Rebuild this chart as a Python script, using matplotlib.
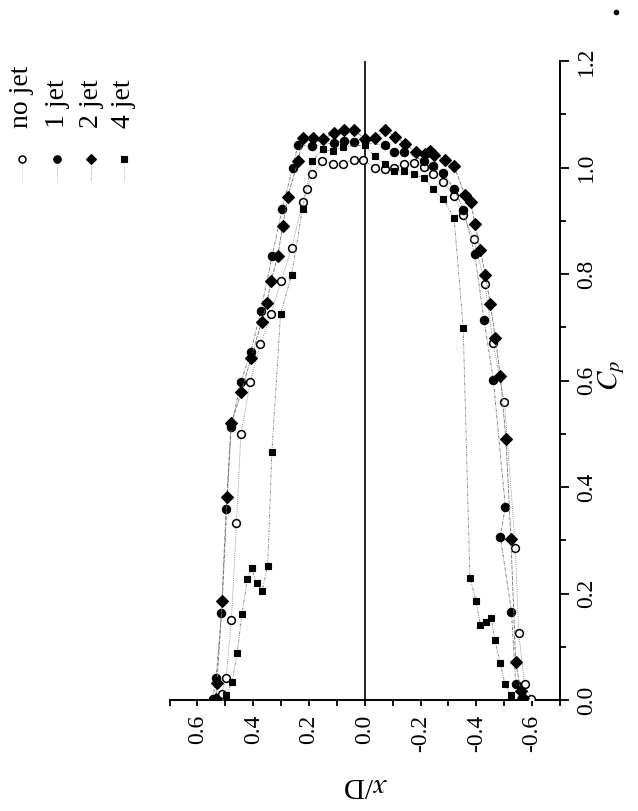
import matplotlib
matplotlib.use("Agg")
import matplotlib.pyplot as plt
from matplotlib.ticker import FixedLocator, MultipleLocator
from matplotlib.lines import Line2D

plt.rcParams['font.family'] = ['Liberation Serif', 'DejaVu Serif']
plt.rcParams['mathtext.fontset'] = 'stix'

# ---------------- data (x/D, Cp) ----------------
xd_nojet = [0.520, 0.513, 0.497, 0.478, 0.460, 0.444, 0.410, 0.374, 0.336, 0.300,
            0.262, 0.223, 0.208, 0.189, 0.153, 0.115, 0.079, 0.040, 0.005, -0.035,
            -0.071, -0.106, -0.142, -0.178, -0.214, -0.246, -0.282, -0.320, -0.354,
            -0.391, -0.431, -0.460, -0.501, -0.540, -0.552, -0.573, -0.596]
cp_nojet = [0.003, 0.012, 0.042, 0.150, 0.332, 0.500, 0.598, 0.668, 0.724, 0.787,
            0.849, 0.935, 0.959, 0.987, 1.012, 1.007, 1.007, 1.014, 1.014, 1.000,
            0.998, 1.000, 1.007, 1.009, 1.001, 0.987, 0.973, 0.946, 0.910,
            0.865, 0.782, 0.670, 0.559, 0.285, 0.125, 0.030, 0.002]

xd_1jet = [0.545, 0.533, 0.514, 0.497, 0.480, 0.443, 0.409, 0.373, 0.332, 0.296,
           0.258, 0.240, 0.189, 0.112, 0.075, 0.037, -0.071, -0.106, -0.142,
           -0.214, -0.246, -0.282, -0.321, -0.354, -0.394, -0.428, -0.461, -0.504,
           -0.486, -0.526, -0.541, -0.563]
cp_1jet = [0.002, 0.042, 0.163, 0.359, 0.513, 0.598, 0.653, 0.730, 0.834, 0.923,
           1.000, 1.042, 1.040, 1.046, 1.050, 1.048, 1.042, 1.029, 1.029,
           1.012, 1.002, 0.989, 0.959, 0.921, 0.837, 0.713, 0.601, 0.363,
           0.307, 0.166, 0.030, 0.003]

xd_2jet = [0.535, 0.530, 0.511, 0.493, 0.478, 0.443, 0.407, 0.370, 0.351, 0.336,
           0.312, 0.294, 0.276, 0.240, 0.220, 0.184, 0.150, 0.112, 0.073, 0.037,
           0.000, -0.038, -0.074, -0.110, -0.146, -0.182, -0.217, -0.234, -0.250,
           -0.289, -0.321, -0.359, -0.380, -0.396, -0.414, -0.432, -0.450, -0.468,
           -0.486, -0.506, -0.524, -0.541, -0.560, -0.568]
cp_2jet = [0.002, 0.031, 0.185, 0.382, 0.520, 0.578, 0.643, 0.710, 0.745, 0.787,
           0.834, 0.890, 0.945, 1.012, 1.056, 1.056, 1.054, 1.064, 1.070, 1.070,
           1.054, 1.056, 1.070, 1.058, 1.044, 1.029, 1.025, 1.031, 1.023,
           1.015, 1.002, 0.948, 0.935, 0.893, 0.845, 0.799, 0.744, 0.680,
           0.609, 0.491, 0.302, 0.071, 0.016, 0.003]

xd_4jet = [0.497, 0.476, 0.457, 0.440, 0.421, 0.405, 0.388, 0.368, 0.348, 0.333,
           0.302, 0.262, 0.223, 0.189, 0.151, 0.115, 0.079, 0.000, -0.035, -0.073,
           -0.106, -0.142, -0.178, -0.214, -0.246, -0.282, -0.320, -0.353, -0.377,
           -0.399, -0.414, -0.435, -0.453, -0.467, -0.485, -0.503, -0.524]
cp_4jet = [0.009, 0.033, 0.089, 0.162, 0.227, 0.247, 0.219, 0.205, 0.252, 0.465,
           0.724, 0.799, 0.923, 1.012, 1.034, 1.031, 1.039, 1.042, 1.021, 1.006,
           0.993, 0.993, 0.987, 0.980, 0.959, 0.940, 0.906, 0.699, 0.230,
           0.186, 0.141, 0.147, 0.154, 0.112, 0.070, 0.030, 0.009]

series_labels = ['no jet', '1 jet', '2 jet', '4 jet']
x_ticks = [0.6, 0.4, 0.2, 0.0, -0.2, -0.4, -0.6]
x_tick_labels = ['0.6', '0.4', '0.2', '0.0', '-0.2', '-0.4', '-0.6']
y_ticks = [0.0, 0.2, 0.4, 0.6, 0.8, 1.0, 1.2]
y_tick_labels = ['0.0', '0.2', '0.4', '0.6', '0.8', '1.0', '1.2']

# ---------------- figure ----------------
W, H = 638, 811
fig = plt.figure(figsize=(W / 100, H / 100), dpi=100)
ax = fig.add_axes([169.5 / W, (H - 700) / H, (560 - 169.5) / W, (700 - 61) / H])

styles = [
    dict(marker='o', mfc='white', mec='black', ms=5.6, mew=1.1, ls=(0, (1, 1.5))),
    dict(marker='o', mfc='black', mec='black', ms=6.0, mew=0.8, ls=(0, (4, 1.5, 1, 1.5))),
    dict(marker='D', mfc='black', mec='black', ms=5.8, mew=0.8, ls=(0, (5, 1.5))),
    dict(marker='s', mfc='black', mec='black', ms=5.0, mew=0.8, ls=(0, (3, 1.5, 1, 1.5, 1, 1.5))),
]
data = [(xd_nojet, cp_nojet), (xd_1jet, cp_1jet), (xd_2jet, cp_2jet), (xd_4jet, cp_4jet)]
for (xs, ys), st in zip(data, styles):
    ax.plot(xs, ys, color='0.45', lw=0.6, zorder=3, **st)

ax.axvline(0.0, color='black', lw=1.2, zorder=2)

ax.set_xlim(0.7, -0.7)
ax.set_ylim(0.0, 1.2)

for s in ['top', 'left']:
    ax.spines[s].set_visible(False)
for s in ['bottom', 'right']:
    ax.spines[s].set_linewidth(1.4)

ax.xaxis.set_major_locator(FixedLocator(x_ticks))
ax.xaxis.set_minor_locator(MultipleLocator(0.1))
ax.set_xticklabels(x_tick_labels)
ax.yaxis.tick_right()
ax.yaxis.set_major_locator(FixedLocator(y_ticks))
ax.yaxis.set_minor_locator(MultipleLocator(0.1))
ax.set_yticklabels(y_tick_labels)

ax.tick_params(axis='x', which='both', direction='out', length=4.5, width=1.3,
               labelsize=17, labelrotation=90, pad=6, top=False)
ax.tick_params(axis='y', which='major', direction='out', length=6.5, width=1.3,
               labelsize=17, labelrotation=90, pad=5, left=False, right=True,
               labelleft=False, labelright=True)
ax.tick_params(axis='y', which='minor', direction='out', length=4.0, width=1.3,
               left=False, right=True)
for lab in ax.get_yticklabels():
    lab.set_va('center')
    lab.set_ha('left')

# axis labels (rotated page)
fig.text(365 / W, (H - 785) / H, r'$x$/D', rotation=180, fontsize=21,
         ha='center', va='center')
fig.text(612 / W, (H - 375) / H, r'$C_p$', rotation=90, fontsize=21,
         ha='center', va='center')

# legend drawn rotated, in figure pixels
leg_x = [22, 57, 91, 124]
for lx, st, lab in zip(leg_x, styles, series_labels):
    fig.add_artist(Line2D([lx / W, lx / W], [(H - 160) / H, (H - 182) / H],
                          transform=fig.transFigure, color='0.75', lw=0.6,
                          ls=st['ls']))
    fig.add_artist(Line2D([lx / W], [(H - 159) / H], transform=fig.transFigure,
                          marker=st['marker'], mfc=st['mfc'], mec=st['mec'],
                          ms=st['ms'] * 0.9, mew=st['mew'], ls='none'))
    fig.text(lx / W, (H - 128) / H, lab, rotation=90, fontsize=20,
             ha='center', va='bottom')

# stray scan dot at top-right
fig.add_artist(Line2D([616 / W], [(H - 12) / H], transform=fig.transFigure,
                      marker='o', ms=3, color='black', ls='none'))

fig.savefig('out.png', dpi=100)
